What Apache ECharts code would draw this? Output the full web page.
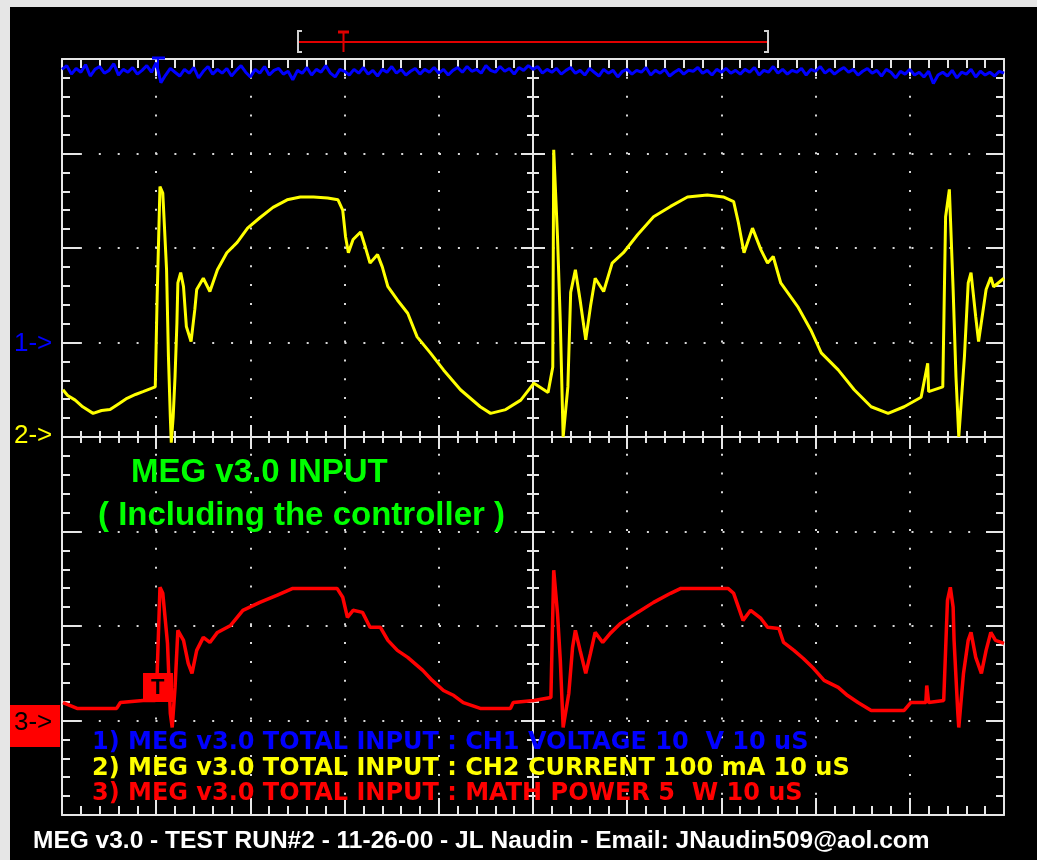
<!DOCTYPE html>
<html><head><meta charset="utf-8">
<script src="https://cdn.jsdelivr.net/npm/echarts@6/dist/echarts.min.js"></script>
<style>
html,body{margin:0;padding:0;background:#e6e6e6;}
#bk{position:absolute;left:10px;top:7px;width:1027px;height:853px;background:#000;}
#c{position:absolute;left:0;top:0;width:1037px;height:860px;}
</style></head>
<body><div id="bk"></div><div id="c"></div>
<script>
// Time axis: 10 divisions of 10 uS
const timeMin = 0, timeMax = 100, timeStep = 10;
// Channel 1 : voltage (V), 10 V/div, ground at +1 div; one sample every 0.5 uS
const ch1SampleStep = 0.5;
const ch1Voltage = [
28.9,29.3,28.4,29.0,28.6,29.4,28.2,28.9,29.2,28.5,28.8,29.5,28.3,28.9,28.6,29.1,28.4,28.8,29.3,28.6,
29.6,27.5,28.3,29.0,28.6,28.2,28.9,28.5,29.1,28.0,28.7,29.2,28.4,28.9,28.5,29.0,28.2,28.8,29.3,28.6,
28.1,28.9,28.5,29.2,28.3,28.8,29.0,28.4,28.7,27.8,28.8,28.5,29.1,28.3,28.9,28.6,29.3,28.5,28.1,28.9,
28.7,28.3,28.9,28.5,29.1,28.4,28.8,28.2,28.9,28.6,29.2,28.5,28.9,28.3,28.7,29.0,28.4,28.9,28.6,29.1,
28.5,28.9,28.3,28.8,29.1,28.6,29.2,28.7,28.9,28.5,29.3,28.8,28.6,29.2,28.7,29.0,28.4,29.1,28.8,29.3,
28.9,29.2,28.5,28.9,28.6,29.0,28.4,28.8,29.1,28.5,28.8,28.3,29.0,28.6,28.2,28.9,28.5,28.8,28.1,28.7,
28.9,28.4,28.8,28.6,29.1,28.3,28.8,28.5,28.9,28.2,28.6,28.9,28.4,28.8,28.7,29.1,28.5,28.8,28.3,28.9,
28.6,29.0,28.5,28.8,28.4,28.9,28.6,29.1,28.3,28.8,28.6,29.2,28.5,28.9,28.4,28.8,28.6,29.0,28.3,28.9,
28.7,29.2,28.5,28.9,28.4,28.8,29.1,28.6,28.9,28.3,28.7,29.0,28.5,28.8,28.2,28.9,28.6,28.0,28.7,28.4,
28.9,28.3,28.6,28.1,28.7,27.4,28.3,28.6,28.2,28.8,28.0,28.6,28.4,28.9,28.1,28.7,28.3,28.6,28.2,28.7,
28.5];
// Channel 2 : current (mA), 100 mA/div, ground at 0 div
const ch2Current = [[0.1,50],[0.6,44],[1.4,39],[2.2,32],[3.3,25],[4.2,28],[5.1,29],[6.0,35],[6.9,41],[7.8,45],[8.6,48],[9.9,53],[10.1,148],[10.4,265],[10.7,258],[11.1,177],[11.3,85],[11.5,21],[11.6,-6],[11.8,21],[12.0,64],[12.2,121],[12.3,163],[12.6,174],[12.9,159],[13.2,117],[13.7,101],[14.1,135],[14.3,156],[15.0,168],[15.7,154],[16.5,177],[17.5,195],[18.6,206],[19.7,221],[21.0,232],[22.4,243],[23.9,251],[25.3,254],[26.7,254],[28.2,253],[29.3,251],[29.8,240],[30.1,212],[30.4,195],[30.9,209],[31.7,217],[32.2,201],[32.7,184],[33.5,193],[34.0,180],[34.6,159],[35.6,145],[36.7,131],[37.7,106],[39.1,89],[40.5,71],[42.3,50],[44.4,32],[45.5,25],[47.1,29],[48.7,39],[50.1,57],[51.6,47],[52.1,74],[52.2,304],[52.6,212],[52.9,121],[53.2,0],[53.7,53],[54.0,153],[54.5,177],[55.0,145],[55.6,103],[56.1,138],[56.6,168],[57.5,154],[58.4,184],[59.6,195],[61.1,214],[62.8,233],[64.6,244],[66.4,254],[68.5,256],[70.2,254],[71.3,249],[71.8,227],[72.4,195],[73.3,221],[74.2,198],[74.9,184],[75.5,191],[76.3,163],[78.1,138],[79.5,113],[80.6,89],[82.4,71],[84.1,50],[85.9,32],[87.7,25],[89.4,32],[91.2,42],[91.9,78],[92.0,48],[93.5,53],[93.8,233],[94.2,262],[94.6,156],[94.9,64],[95.2,0],[95.8,85],[96.2,163],[96.5,174],[97.0,127],[97.3,101],[98.1,156],[98.6,169],[98.9,159],[100,168]];
// Math : power (W), 5 W/div, ground at -3 div
const mathPower = [[0.1,0.95],[1.6,0.64],[5.8,0.64],[6.2,0.95],[8.6,1.06],[9.9,1.06],[10.1,2.49],[10.4,7.05],[10.7,6.73],[11.2,4.08],[11.5,0.37],[11.7,-0.37],[12.0,1.75],[12.3,4.77],[12.9,4.24],[13.4,3.02],[13.8,2.49],[14.3,3.71],[15.0,4.40],[15.7,4.13],[16.5,4.66],[17.9,5.03],[19.2,5.83],[21.0,6.25],[22.8,6.62],[24.5,6.99],[26.7,6.99],[29.2,6.99],[29.8,6.52],[30.3,5.46],[30.9,5.83],[31.9,5.72],[32.7,4.93],[33.8,4.93],[34.6,4.24],[35.6,3.71],[36.7,3.34],[38.3,2.65],[39.3,2.12],[40.5,1.59],[41.6,1.32],[42.6,0.95],[44.4,0.64],[47.6,0.64],[47.9,0.95],[50.1,1.06],[51.9,1.22],[52.2,7.95],[52.6,5.67],[52.9,3.18],[53.2,-0.37],[53.8,1.43],[54.2,3.87],[54.5,4.77],[55.0,3.71],[55.6,2.49],[56.1,3.55],[56.6,4.66],[57.4,4.13],[58.2,4.61],[59.3,5.14],[61.1,5.72],[62.8,6.25],[64.6,6.73],[65.7,6.99],[70.7,6.99],[71.3,6.73],[72.3,5.30],[73.1,5.83],[74.2,5.40],[74.9,4.93],[76.1,4.87],[76.6,4.13],[77.7,3.71],[78.7,3.28],[79.8,2.75],[80.9,2.12],[82.4,1.75],[83.4,1.32],[84.5,0.95],[85.9,0.53],[89.4,0.53],[90.1,0.95],[91.7,0.95],[91.8,1.85],[92.0,0.95],[93.6,1.06],[94.0,6.36],[94.3,7.05],[94.6,5.99],[94.7,4.24],[95.1,0.37],[95.2,-0.37],[95.7,2.49],[96.2,4.24],[96.5,4.66],[97.0,3.34],[97.6,2.49],[98.1,3.71],[98.6,4.66],[99.1,4.24],[100,4.08]];
// Vertical ranges (8 divisions) per channel
const divRange = [-4, 4];
const ch1Range = [-50, 30];
const ch2Range = [-400, 400];
const mathRange = [-5, 35];
const legendLines = [
  '1) MEG v3.0 TOTAL INPUT : CH1 VOLTAGE 10  V 10 uS',
  '2) MEG v3.0 TOTAL INPUT : CH2 CURRENT 100 mA 10 uS',
  '3) MEG v3.0 TOTAL INPUT : MATH POWER 5  W 10 uS'
];
const titleLines = ['MEG v3.0 INPUT', '( Including the controller )'];
const footer = 'MEG v3.0 - TEST RUN#2 - 11-26-00 - JL Naudin - Email: JNaudin509@aol.com';
const markers = ['1->', '2->', '3->'];

const FONT = '"Liberation Sans", Arial, sans-serif';
const DFONT = '"DejaVu Sans", Verdana, sans-serif';
const W = '#e6e6e6';
const chart = echarts.init(document.getElementById('c'), null, {renderer: 'canvas'});
const G = {left: 62, top: 59, width: 942, height: 756};

const ch1Data = ch1Voltage.map((v, i) => [i * ch1SampleStep, v]);

function borderX(pos, split) {
  return {gridIndex: 0, type: 'value', position: pos, min: timeMin, max: timeMax, interval: timeStep,
    axisLine: {show: true, onZero: false, lineStyle: {color: W, width: 2}},
    axisTick: {show: true, inside: true, length: 17, lineStyle: {color: W, width: 2}},
    minorTick: {show: true, splitNumber: 5, length: 9, lineStyle: {color: W, width: 2}},
    axisLabel: {show: false},
    splitLine: {show: split, lineStyle: {color: '#d8d8d8', width: 2, type: [2, 16.84], dashOffset: 1}}};
}
function borderY(pos, split) {
  return {gridIndex: 0, type: 'value', position: pos, min: divRange[0], max: divRange[1], interval: 1,
    axisLine: {show: true, onZero: false, lineStyle: {color: W, width: 2}},
    axisTick: {show: true, inside: true, length: 18, lineStyle: {color: W, width: 2}},
    minorTick: {show: true, splitNumber: 5, length: 8, lineStyle: {color: W, width: 2}},
    axisLabel: {show: false},
    splitLine: {show: split, lineStyle: {color: '#d8d8d8', width: 2, type: [2, 16.9], dashOffset: 1}}};
}
function centerX(pos) {
  return {gridIndex: 1, type: 'value', position: pos, min: -50, max: 50, interval: 10,
    axisLine: {show: true, onZero: true, onZeroAxisIndex: 2, lineStyle: {color: W, width: 2}},
    axisTick: {show: true, inside: true, length: 12, lineStyle: {color: W, width: 2}},
    minorTick: {show: true, splitNumber: 5, length: 6, lineStyle: {color: W, width: 2}},
    axisLabel: {show: false}, splitLine: {show: false}};
}
function centerY(pos) {
  return {gridIndex: 1, type: 'value', position: pos, min: divRange[0], max: divRange[1], interval: 1,
    axisLine: {show: true, onZero: true, onZeroAxisIndex: 2, lineStyle: {color: W, width: 2}},
    axisTick: {show: true, inside: true, length: 12, lineStyle: {color: W, width: 2}},
    minorTick: {show: true, splitNumber: 5, length: 6, lineStyle: {color: W, width: 2}},
    axisLabel: {show: false}, splitLine: {show: false}};
}
function hiddenY(r) {
  return {gridIndex: 0, type: 'value', show: false, min: r[0], max: r[1],
    axisLine: {onZero: false}, splitLine: {show: false}};
}

function txt(text, x, y, color, font, extra) {
  return Object.assign({type: 'text', x: x, y: y, silent: true, z: 50,
    style: {text: text, fill: color, font: font, verticalAlign: 'middle', align: 'left'}}, extra || {});
}
function seg(x1, y1, x2, y2, color, w) {
  return {type: 'line', silent: true, z: 50, shape: {x1: x1, y1: y1, x2: x2, y2: y2},
    style: {stroke: color, lineWidth: w || 2}};
}

const graphics = [
  // trigger window bar on top
  seg(298, 30, 298, 53, '#d0d0d0', 2), seg(298, 31, 302, 31, '#d0d0d0', 2), seg(298, 52, 302, 52, '#d0d0d0', 2),
  seg(768, 30, 768, 53, '#d0d0d0', 2), seg(764, 31, 768, 31, '#d0d0d0', 2), seg(764, 52, 768, 52, '#d0d0d0', 2),
  seg(299, 42, 767, 42, '#e00000', 2),
  seg(338, 32, 349, 32, '#e00000', 3), seg(343.5, 32, 343.5, 52, '#e00000', 2),
  // channel 1 trigger tag at top
  seg(152, 58, 165, 58, '#0000ff', 3), seg(158, 58, 158, 70, '#0000ff', 2),
  // channel markers
  txt(markers[0], 14, 344, '#0000ff', '26px ' + FONT),
  txt(markers[1], 14, 436, '#ffff00', '26px ' + FONT),
  {type: 'rect', silent: true, z: 49, shape: {x: 10, y: 705, width: 50, height: 42}, style: {fill: '#ff0000'}},
  txt(markers[2], 14, 723, '#000000', '26px ' + FONT),
  // trigger tag on math trace
  {type: 'rect', silent: true, z: 49, shape: {x: 143, y: 673, width: 30, height: 29}, style: {fill: '#ff0000'}},
  txt('T', 151, 688, '#000000', 'bold 22px ' + FONT),
  // titles
  txt(titleLines[0], 131, 473, '#00ff00', 'bold 33px ' + FONT),
  txt(titleLines[1], 98, 516, '#00ff00', 'bold 33px ' + FONT),
  // legend lines
  txt(legendLines[0], 92, 743, '#0000ff', 'bold 24px ' + DFONT),
  txt(legendLines[1], 92, 769, '#ffff00', 'bold 24px ' + DFONT),
  txt(legendLines[2], 92, 794, '#ff0000', 'bold 24px ' + DFONT),
  // footer
  txt(footer, 33, 841, '#ffffff', 'bold 24.5px ' + FONT)
];

const option = {
  backgroundColor: 'transparent',
  animation: false,
  grid: [
    Object.assign({show: false}, G),
    Object.assign({show: false}, G)
  ],
  xAxis: [borderX('bottom', true), borderX('top', false), centerX('bottom'), centerX('top')],
  yAxis: [borderY('left', true), borderY('right', false), centerY('left'), centerY('right'),
    hiddenY(ch1Range), hiddenY(ch2Range), hiddenY(mathRange)],
  series: [
    {name: 'CH1', type: 'line', xAxisIndex: 0, yAxisIndex: 4, data: ch1Data, showSymbol: false,
      lineStyle: {color: '#0000ff', width: 3}, z: 5},
    {name: 'CH2', type: 'line', xAxisIndex: 0, yAxisIndex: 5, data: ch2Current, showSymbol: false,
      lineStyle: {color: '#ffff00', width: 3}, z: 5},
    {name: 'MATH', type: 'line', xAxisIndex: 0, yAxisIndex: 6, data: mathPower, showSymbol: false,
      lineStyle: {color: '#ff0000', width: 3.5}, z: 5}
  ],
  graphic: graphics
};
chart.setOption(option);
</script>
</body></html>
